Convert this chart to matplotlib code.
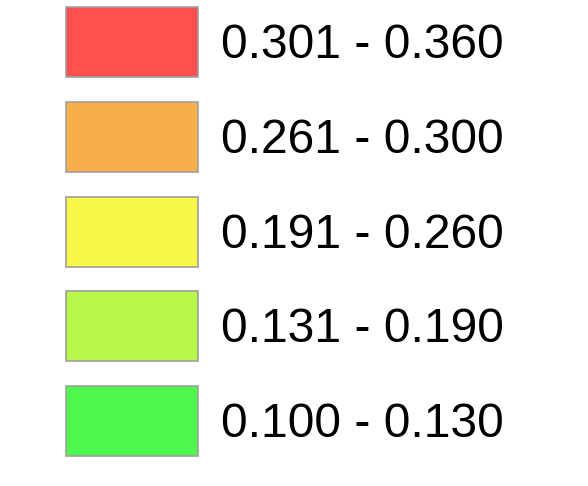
import matplotlib.pyplot as plt
from matplotlib.patches import Rectangle

labels = ['0.301 - 0.360', '0.261 - 0.300', '0.191 - 0.260', '0.131 - 0.190', '0.100 - 0.130']
colors = ['#FF5050', '#F9AD4C', '#F7F74A', '#B9F74B', '#4EF74E']

fig = plt.figure(figsize=(5.88, 4.86), dpi=100)
ax = fig.add_axes([0, 0, 1, 1])
ax.set_xlim(0, 588)
ax.set_ylim(486, 0)
ax.axis('off')

# legend rows
for i, (lab, col) in enumerate(zip(labels, colors)):
    top = 7.5 + i * 94.6
    ax.add_patch(Rectangle((66, top), 131.5, 70, facecolor=col, edgecolor='#A0A0A0', linewidth=1.2))
    ax.text(221, top + 51, lab, fontsize=34.6, family='Liberation Sans', va='baseline', ha='left')

fig.savefig('out.png', dpi=100)
